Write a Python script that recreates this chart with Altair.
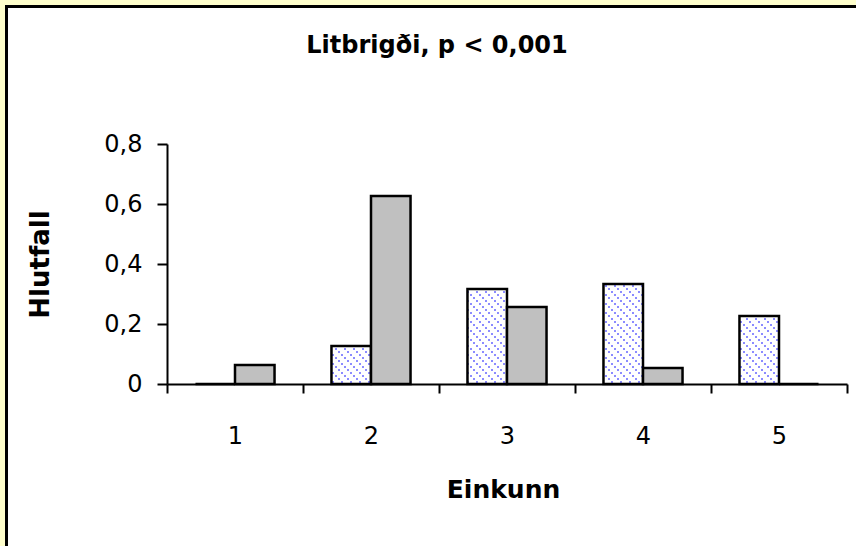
import altair as alt
import pandas as pd
import jinja2

# ---- data ----
categories = ["1", "2", "3", "4", "5"]
series_names = ["Röð 1", "Röð 2"]
hatched_values = [0.0, 0.127, 0.317, 0.333, 0.227]
grey_values = [0.063, 0.627, 0.257, 0.053, 0.0]
y_ticks = [0, 0.2, 0.4, 0.6, 0.8]

rows = []
for c, h, g in zip(categories, hatched_values, grey_values):
    rows.append({"Einkunn": c, "Röð": series_names[0], "Hlutfall": h})
    rows.append({"Einkunn": c, "Röð": series_names[1], "Hlutfall": g})
df = pd.DataFrame(rows)

FONT = "DejaVu Sans"

bars = alt.Chart(df).mark_bar(stroke="black", strokeWidth=2.5).encode(
    x=alt.X(
        "Einkunn:O",
        sort=categories,
        scale=alt.Scale(paddingInner=0, paddingOuter=0),
        axis=alt.Axis(
            title="Einkunn",
            labelAngle=0,
            labelFont=FONT,
            labelFontSize=24,
            labelColor="black",
            labelBaseline="alphabetic",
            labelPadding=50,
            tickBand="extent",
            tickSize=9,
            tickWidth=2,
            tickColor="black",
            domainWidth=2,
            domainColor="black",
            titleFont=FONT,
            titleFontSize=25,
            titleFontWeight="bold",
            titleColor="black",
            titleX=336,
            titleY=113,
            titleBaseline="alphabetic",
            titleAlign="center",
            grid=False,
        ),
    ),
    xOffset=alt.XOffset(
        "Röð:N", sort=series_names,
        scale=alt.Scale(paddingOuter=0.72, paddingInner=0),
    ),
    y=alt.Y(
        "Hlutfall:Q",
        scale=alt.Scale(domain=[0, 0.8], nice=False),
        axis=alt.Axis(
            title="Hlutfall",
            values=y_ticks,
            labelExpr="replace(format(datum.value, '.1~f'), '.', ',')",
            labelFont=FONT,
            labelFontSize=24,
            labelColor="black",
            labelPadding=15,
            tickSize=10,
            tickWidth=2,
            tickColor="black",
            domainWidth=2,
            domainColor="black",
            titleFont=FONT,
            titleFontSize=26,
            titleFontWeight="bold",
            titleColor="black",
            titleX=-127,
            titleY=120,
            titleAngle=-90,
            titleAlign="center",
            titleBaseline="middle",
            grid=False,
        ),
    ),
    fill=alt.Fill(
        "Röð:N",
        sort=series_names,
        scale=alt.Scale(domain=series_names, range=["url(#hatch)", "#C0C0C0"]),
        legend=None,
    ),
)

chart = bars.properties(
    width=680,
    height=240,
    title=alt.Title(
        "Litbrigði, p < 0,001",
        font=FONT,
        fontSize=24,
        fontWeight="bold",
        color="black",
        anchor="middle",
        dx=-70,
        baseline="alphabetic",
        offset=55,
    ),
    autosize=alt.AutoSizeParams(type="none"),
    padding={"left": 159, "top": 136, "right": 30, "bottom": 170},
    background="white",
).configure_view(stroke=None)

TEMPLATE = jinja2.Template("""<!DOCTYPE html>
<html>
<head>
  <style>
    html, body { margin: 0; padding: 0; overflow: hidden; background: #FFFFCC; }
    #{{ output_div }} { position: absolute; left: 5px; top: 5px; border: 3px solid #000; background: #fff; }
  </style>
  <script type="text/javascript" src="{{ base_url }}/vega@{{ vega_version }}"></script>
  <script type="text/javascript" src="{{ base_url }}/vega-lite@{{ vegalite_version }}"></script>
  <script type="text/javascript" src="{{ base_url }}/vega-embed@{{ vegaembed_version }}"></script>
</head>
<body>
  <svg width="0" height="0" style="position:absolute">
    <defs>
      <pattern id="hatch" patternUnits="userSpaceOnUse" x="0" y="0" width="9" height="9">
        <rect x="0" y="0" width="9" height="9" fill="#ffffff"></rect>
        <rect x="0" y="0" width="2" height="2" fill="#8c8cff"></rect>
        <rect x="3" y="3" width="2" height="2" fill="#8c8cff"></rect>
        <rect x="6" y="6" width="2" height="2" fill="#8c8cff"></rect>
      </pattern>
    </defs>
  </svg>
  <div id="{{ output_div }}"></div>
  <script>
    (function(vegaEmbed) {
      var spec = {{ spec }};
      var embedOpt = {{ embed_options }};
      function showError(el, error){
          el.innerHTML = ('<div style="color:red;"><p>JavaScript Error: ' + error.message + '</p></div>');
          throw error;
      }
      const el = document.getElementById('{{ output_div }}');
      vegaEmbed("#{{ output_div }}", spec, embedOpt).catch(error => showError(el, error));
    })(vegaEmbed);
  </script>
</body>
</html>
""")

chart.save("out.html", embed_options={"renderer": "svg", "actions": False}, template=TEMPLATE)
